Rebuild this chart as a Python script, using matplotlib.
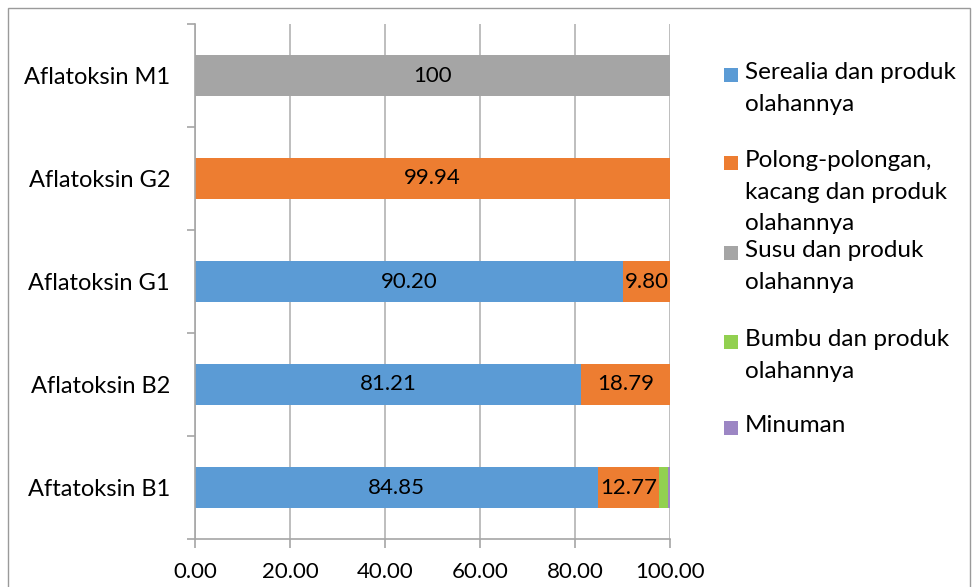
import matplotlib
matplotlib.use("Agg")
import matplotlib.pyplot as plt
from matplotlib.patches import Rectangle
import numpy as np

plt.rcParams['font.family'] = ['Lato', 'DejaVu Sans']

categories = ["Aftatoksin B1", "Aflatoksin B2", "Aflatoksin G1", "Aflatoksin G2", "Aflatoksin M1"]
series_names = ["Serealia dan produk\nolahannya",
                "Polong-polongan,\nkacang dan produk\nolahannya",
                "Susu dan produk\nolahannya",
                "Bumbu dan produk\nolahannya",
                "Minuman"]
serealia = [84.85, 81.21, 90.20, 0, 0]
polong = [12.77, 18.79, 9.80, 99.94, 0]
susu = [0, 0, 0, 0, 100]
bumbu = [1.97, 0, 0, 0, 0]
minuman = [0.41, 0, 0, 0, 0]
xticks = [0, 20, 40, 60, 80, 100]
xticklabels = ["0.00", "20.00", "40.00", "60.00", "80.00", "100.00"]

colors = ["#5B9BD5", "#ED7D31", "#A5A5A5", "#92D050", "#9C86C4"]
series = [serealia, polong, susu, bumbu, minuman]
label_series = {0: "{:.2f}", 1: "{:.2f}", 2: "{:g}"}

W, H = 972, 587
fig = plt.figure(figsize=(W / 100, H / 100), dpi=100)
ax = fig.add_axes([195 / W, 1 - 539 / H, 475 / W, 515 / H])

y = np.arange(len(categories))
left = np.zeros(len(categories))
for i, (vals, col) in enumerate(zip(series, colors)):
    vals = np.array(vals, dtype=float)
    bars = ax.barh(y, vals, left=left, height=0.4, color=col, zorder=2 + i * 0.05,
                   linewidth=0)
    if i in label_series:
        labs = [label_series[i].format(v) if v > 0 else "" for v in vals]
        texts = ax.bar_label(bars, labels=labs, label_type='center', fontsize=16, color="black")
        for t in texts:
            t.set_zorder(6)
    left += vals

ax.set_xlim(0, 100)
ax.set_ylim(-0.5, len(categories) - 0.5)
ax.set_xticks(xticks)
ax.set_xticklabels(xticklabels, fontsize=16)
ax.set_yticks(y)
ax.set_yticklabels(categories, fontsize=17)
ax.set_yticks(np.arange(-0.5, len(categories)), minor=True)
ax.tick_params(axis='y', which='major', length=0, pad=18)
ax.tick_params(axis='y', which='minor', length=6, width=1.2, color="#A6A6A6", direction='out')
ax.tick_params(axis='x', which='major', length=6.5, width=1.2, color="#A6A6A6", direction='out', pad=10)

ax.grid(axis='x', color="#B3B3B3", linewidth=1.2, zorder=0)
for s in ['top', 'right']:
    ax.spines[s].set_visible(False)
for s in ['left', 'bottom']:
    ax.spines[s].set_color("#A6A6A6")
    ax.spines[s].set_linewidth(1.2)
ax.spines['left'].set_zorder(4)

# legend drawn manually to mimic fixed-height entries
leg_y = [75, 163, 253, 342, 428]
for name, col, yy in zip(series_names, colors, leg_y):
    fig.patches.append(Rectangle((724 / W, 1 - (yy + 7) / H), 14 / W, 14 / H,
                                 transform=fig.transFigure, facecolor=col, edgecolor='none'))
    fig.text(745 / W, 1 - (yy - 13) / H, name, fontsize=17.5, va='top', ha='left',
             linespacing=1.62)

# chart border
fig.patches.append(Rectangle((8 / W, -0.05), 962 / W, 1.05 - 8 / H, transform=fig.transFigure,
                             facecolor='none', edgecolor="#9A9A9A", linewidth=1.0))

fig.savefig("out.png", dpi=100)
